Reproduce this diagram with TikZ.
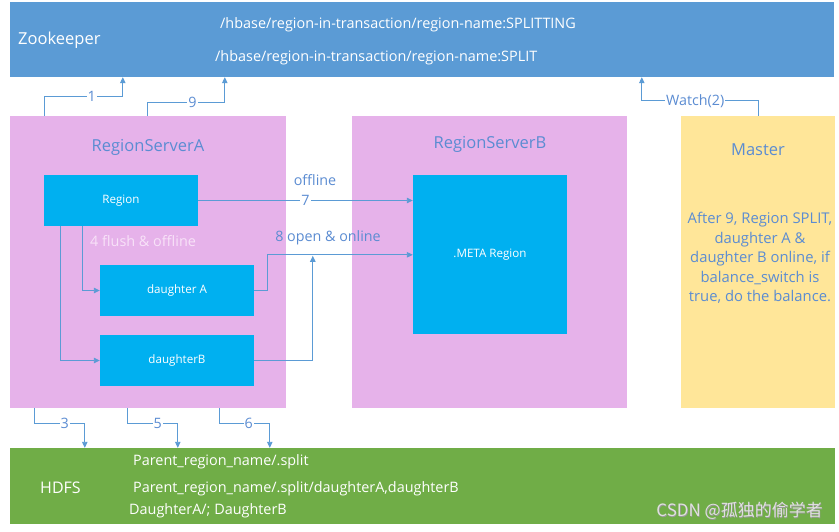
\documentclass[tikz,border=0pt]{standalone}
\usepackage{fontspec}
\setmainfont{Open Sans}
\newfontfamily\cjkfont{Noto Sans CJK SC}
\usetikzlibrary{arrows.meta,calc}
\definecolor{zkblue}{HTML}{5B9BD5}
\definecolor{rspink}{HTML}{E6B2EA}
\definecolor{cyanbox}{HTML}{00B0F0}
\definecolor{mastery}{HTML}{FFE699}
\definecolor{hdfsgreen}{HTML}{70AD47}
\definecolor{titleblue}{HTML}{5B8CD2}
\definecolor{connblue}{HTML}{5B9BD5}
\definecolor{flushpink}{HTML}{F8E2F8}
\tikzset{
  area/.style={draw=none, rectangle, inner sep=0pt},
  inner/.style={area, fill=cyanbox, text=white, font=\fontsize{11.6}{13}\selectfont},
  conn/.style={draw=connblue, line width=0.9pt, -{Triangle[length=6pt,width=5.5pt]}},
  lab/.style={fill=white, text=titleblue, inner sep=1pt, font=\fontsize{14.3}{16}\selectfont},
  title/.style={text=titleblue, font=\fontsize{16.5}{19}\selectfont, inner sep=0pt},
  wtext/.style={text=white, font=\fontsize{14.4}{16}\selectfont, inner sep=0pt, anchor=west},
  btext/.style={text=titleblue, font=\fontsize{14.3}{16}\selectfont, inner sep=0pt},
}
\begin{document}
\begin{tikzpicture}[x=1pt,y=-1pt]
\fill[white] (0,0) rectangle (839,531);
\useasboundingbox (0,0) rectangle (839,531);
% big areas
\node[area, fill=zkblue, minimum width=824, minimum height=75] (ZK) at (422,39.5) {};
\node[area, fill=rspink, minimum width=276, minimum height=292] (RSA) at (148,262) {};
\node[area, fill=rspink, minimum width=275, minimum height=292] (RSB) at (489.5,262) {};
\node[area, fill=mastery, minimum width=154, minimum height=292] (MA) at (758,262) {};
\node[area, fill=hdfsgreen, minimum width=825, minimum height=76] (HDFS) at (422.5,486) {};
% zookeeper texts
\node[text=white, font=\fontsize{16.5}{19}\selectfont, inner sep=0pt, anchor=west] (zkt) at (18,40) {Zookeeper};
\node[wtext] (zk1) at (220,25) {/hbase/region-in-transaction/region-name:SPLITTING};
\node[wtext] (zk2) at (215,58) {/hbase/region-in-transaction/region-name:SPLIT};
% titles
\node[title] (rsat) at (148,147) {RegionServerA};
\node[title] (rsbt) at (490,144) {RegionServerB};
\node[title] (mat) at (758,150) {Master};
\node[text=titleblue, font=\fontsize{14.8}{19.5}\selectfont, align=center, inner sep=0pt] (mab) at (760,258)
  {After 9, Region SPLIT,\\daughter A \&\\daughter B online, if\\balance\_switch is\\true, do the balance.};
% inner boxes
\node[inner, minimum width=154, minimum height=51] (Region) at (121,200.5) {Region};
\node[inner, minimum width=154, minimum height=51] (dA) at (177,290.5) {daughter A};
\node[inner, minimum width=154, minimum height=51] (dB) at (177,360.5) {daughterB};
\node[inner, minimum width=154, minimum height=159] (META) at (490,254.5) {.META Region};
\node[text=flushpink, font=\fontsize{14.4}{16}\selectfont, inner sep=0pt, anchor=west] (flush) at (90,241) {4 flush \& offline};
\node[btext] (offl) at (315,180) {offline};
\node[btext] (open) at (328,238) {8 open \& online};
% HDFS texts
\node[text=white, font=\fontsize{16}{19}\selectfont, inner sep=0pt, anchor=west] (hdfst) at (40,488) {HDFS};
\node[wtext] (h1) at (133,462) {Parent\_region\_name/.split};
\node[wtext] (h2) at (133,489) {Parent\_region\_name/.split/daughterA,daughterB};
\node[wtext] (h3) at (129,511) {DaughterA/; DaughterB};
% connectors
\draw[conn] ($(RSA.north west)+(35,0)$) -- ++(0,-19) -| node[lab,pos=0.3]{1} ($(ZK.south west)+(113,0)$);
\draw[conn] ($(RSA.north west)+(138,0)$) -- ++(0,-13) -| node[lab,pos=0.29]{9} ($(ZK.south west)+(215,0)$);
\draw[conn] (MA.north) -- ++(0,-15) -| node[lab,pos=0.27]{Watch(2)} ($(ZK.south west)+(632,0)$);
\draw[conn] ($(RSA.south west)+(25,0)$) -- ++(0,15) -| node[lab,pos=0.3]{3} ($(HDFS.north west)+(75,0)$);
\draw[conn] ($(RSA.south west)+(118,0)$) -- ++(0,15) -| node[lab,pos=0.3]{5} ($(HDFS.north west)+(168,0)$);
\draw[conn] ($(RSA.south west)+(210,0)$) -- ++(0,15) -| node[lab,pos=0.29]{6} ($(HDFS.north west)+(260,0)$);
\draw[conn] (Region.east) -- node[lab, fill=white]{7} (META.west |- Region.east);
\coordinate (m8) at ($(META.north west)+(0,80)$);
\draw[conn] (dA.east) -- ++(13,0) |- (m8);
\draw[conn] (dB.east) -| ($(m8)+(-100,1)$);
\draw[conn] ($(Region.south west)+(39,0)$) |- (dA.west);
\draw[conn] ($(Region.south west)+(17,0)$) |- (dB.west);
% watermark
\node[text=black!40, font=\cjkfont\fontsize{17}{20}\selectfont, inner sep=0pt, anchor=east] (wm0) at (823.6,511.6) {CSDN @孤独的偷学者};
\node[text=white!88!black, font=\cjkfont\fontsize{17}{20}\selectfont, inner sep=0pt, anchor=east] (wm) at (823,511) {CSDN @孤独的偷学者};
\end{tikzpicture}
\end{document}
